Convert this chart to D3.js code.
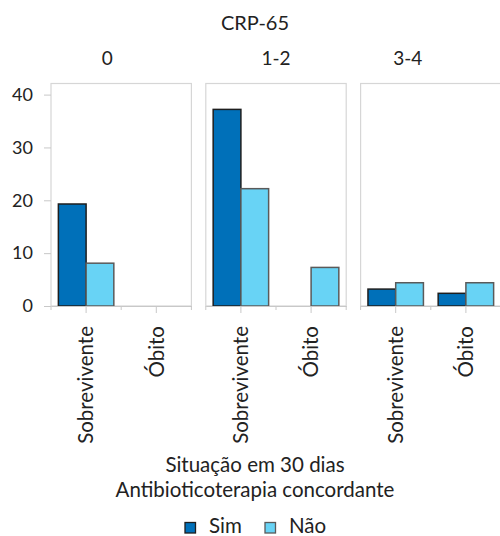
<!DOCTYPE html>
<html>
<head>
<meta charset="utf-8">
<script src="https://cdn.jsdelivr.net/npm/d3@7"></script>
<style>
  body { margin: 0; background: #fff; }
  svg text { font-family: Lato, "Noto Sans", sans-serif; fill: #222; }
</style>
</head>
<body>
<svg id="chart" width="500" height="536"></svg>
<script>
// dados
const panels = ['0', '1-2', '3-4'];
const situacoes = ['Sobrevivente', 'Óbito'];
const series = ['Sim', 'Não'];
const simValues = [[19.3, 0], [37.2, 0], [3.2, 2.4]];
const naoValues = [[8.1, 0], [22.2, 7.3], [4.4, 4.4]];
const yTicks = [0, 10, 20, 30, 40];

const colors = { 'Sim': '#0070b9', 'Não': '#68d3f5' };
const strokes = { 'Sim': '#1e1e1e', 'Não': '#5a5a5a' };

const svg = d3.select('#chart');
const plotTop = 83.5, plotBottom = 306;

// painéis
const xPanel = d3.scaleBand()
  .domain(panels)
  .range([51, 501])
  .paddingInner(0.093);

const pw = xPanel.bandwidth();

const xSit = d3.scaleBand()
  .domain(situacoes)
  .range([0, pw]);

const xSer = d3.scaleBand()
  .domain(series)
  .range([xSit.bandwidth() * 0.105, xSit.bandwidth() * 0.895]);

const y = d3.scaleLinear()
  .domain([0, 42.1])
  .range([plotBottom, plotTop]);

// título
svg.append('text')
  .attr('x', 255).attr('y', 30)
  .attr('text-anchor', 'middle')
  .style('font-size', '20px')
  .text('CRP-65');

// rótulos dos painéis (deslocados como no original)
const stripShift = [-14, 0, -23];

const panel = svg.selectAll('.panel')
  .data(panels)
  .enter()
  .append('g')
  .attr('class', 'panel')
  .attr('transform', d => `translate(${xPanel(d)},0)`);

panel.append('text')
  .attr('x', (d, i) => pw / 2 + stripShift[i])
  .attr('y', 65)
  .attr('text-anchor', 'middle')
  .style('font-size', '19px')
  .text(d => d);

// moldura
panel.append('rect')
  .attr('x', 0).attr('y', plotTop)
  .attr('width', pw).attr('height', plotBottom - plotTop)
  .attr('fill', 'none')
  .attr('stroke', '#d6d6d6')
  .attr('stroke-width', 1.2);

// barras
panel.each(function (p, i) {
  const g = d3.select(this);
  const rows = [];
  situacoes.forEach((s, j) => {
    rows.push({ sit: s, ser: 'Sim', v: simValues[i][j] });
    rows.push({ sit: s, ser: 'Não', v: naoValues[i][j] });
  });

  g.selectAll('.bar')
    .data(rows.filter(r => r.v > 0))
    .enter()
    .append('rect')
    .attr('class', 'bar')
    .attr('x', d => xSit(d.sit) + xSer(d.ser))
    .attr('y', d => y(d.v))
    .attr('width', xSer.bandwidth())
    .attr('height', d => y(0) - y(d.v))
    .attr('fill', d => colors[d.ser])
    .attr('stroke', d => strokes[d.ser])
    .attr('stroke-width', 1.5);

  // eixo x
  const ax = g.append('g')
    .attr('transform', `translate(0,${plotBottom})`)
    .call(d3.axisBottom(xSit).tickSize(7).tickSizeOuter(0).tickPadding(8));
  ax.select('.domain').attr('stroke', '#c8c8c8').attr('stroke-width', 1.2);
  ax.selectAll('.tick line').attr('stroke', '#c8c8c8');
  ax.selectAll('.tick text')
    .attr('transform', 'rotate(-90)')
    .attr('text-anchor', 'end')
    .attr('x', -20)
    .attr('y', 0)
    .attr('dy', '0.36em')
    .style('font-size', '20.5px')
    .style('font-family', 'Lato, sans-serif')
    .style('fill', '#222');

  // marcas menores entre categorias
  const edges = [0, xSit.bandwidth(), pw];
  g.selectAll('.minor')
    .data(edges)
    .enter()
    .append('line')
    .attr('x1', d => d).attr('x2', d => d)
    .attr('y1', plotBottom).attr('y2', plotBottom + 4)
    .attr('stroke', '#c8c8c8');
});

// eixo y
const ay = svg.append('g')
  .attr('transform', `translate(${xPanel(panels[0])},0)`)
  .call(d3.axisLeft(y).tickValues(yTicks).tickSize(7).tickPadding(11));
ay.select('.domain').remove();
ay.selectAll('.tick line').attr('stroke', '#c8c8c8');
ay.selectAll('.tick text')
  .style('font-size', '18px')
  .style('font-family', 'Lato, sans-serif')
  .style('fill', '#222');

// títulos do eixo
svg.append('text')
  .attr('x', 255).attr('y', 472)
  .attr('text-anchor', 'middle')
  .style('font-size', '20.5px')
  .text('Situação em 30 dias');

svg.append('text')
  .attr('x', 255).attr('y', 497)
  .attr('text-anchor', 'middle')
  .style('font-size', '20.5px')
  .text('Antibioticoterapia concordante');

// legenda
const legendX = [185, 265];
const legend = svg.selectAll('.legend')
  .data(series)
  .enter()
  .append('g')
  .attr('class', 'legend')
  .attr('transform', (d, i) => `translate(${legendX[i]},522.5)`);

legend.append('rect')
  .attr('width', 10.5).attr('height', 10.5)
  .attr('fill', d => colors[d])
  .attr('stroke', d => strokes[d])
  .attr('stroke-width', 1.3);

legend.append('text')
  .attr('x', 24).attr('y', 10.5)
  .style('font-size', '20.5px')
  .text(d => d);
</script>
</body>
</html>
